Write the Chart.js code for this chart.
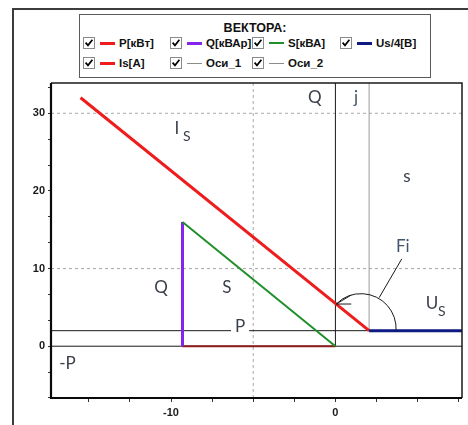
<!DOCTYPE html>
<html>
<head>
<meta charset="utf-8">
<script src="https://cdn.jsdelivr.net/npm/chart.js@4/dist/chart.umd.min.js"></script>
<style>
  html, body { margin: 0; padding: 0; background: #fff; }
  body { width: 468px; height: 425px; overflow: hidden; position: relative;
         font-family: "Liberation Sans", Arial, sans-serif; }
  #frame { position: absolute; left: 12px; top: 8px; width: 480px; height: 440px;
           border-left: 2px solid #3c3c3c; border-top: 2px solid #3c3c3c; }
  #legend { position: absolute; left: 79px; top: 14px; width: 350px; height: 62px;
            border: 1px solid #5a5a5a; background: #fff; }
  #legend .title { position: absolute; left: 0; width: 100%; top: 6px; text-align: center;
                   font-weight: bold; font-size: 12.5px; color: #111; }
  .item { position: absolute; height: 14px; }
  .item svg { position: absolute; top: 1px; }
  .item .ln { position: absolute; top: 7px; }
  .item .tx { position: absolute; top: 0; font-weight: bold; font-size: 11.5px; color: #111;
              white-space: nowrap; line-height: 14px; }
  #chart { position: absolute; left: 0; top: 0; }
</style>
</head>
<body>
<div id="frame"></div>
<div id="legend"><div class="title">ВЕКТОРА:</div></div>
<canvas id="chart" width="468" height="425"></canvas>
<script>
// ---- vector end points (x, y in chart units) ----
const pVector  = [{ x: -9.3, y: 0 },  { x: 0, y: 0 }];
const qVector  = [{ x: -9.3, y: 0 },  { x: -9.3, y: 16 }];
const sVector  = [{ x: -9.3, y: 16 }, { x: 0, y: 0 }];
const isVector = [{ x: -15.5, y: 32 }, { x: 2.05, y: 2 }];
const usVector = [{ x: 2.05, y: 2 },  { x: 7.7, y: 2 }];

// axis lines through the origin and through the voltage vector start
const axis1H = [{ x: -17.3, y: 0 }, { x: 7.7, y: 0 }];
const axis1V = [{ x: 0, y: 0 },     { x: 0, y: 33.9 }];
const axis2H = [{ x: -17.3, y: 2 }, { x: 7.7, y: 2 }];
const axis2V = [{ x: 2.05, y: 2 },  { x: 2.05, y: 33.9 }];

// dashed guide lines
const guideH = [10, 30];
const guideV = [-5];

// scale limits and ticks
const xLimits = [-17.3, 7.7];
const yLimits = [-6.67, 33.9];
const xTickValues = [-15, -12.5, -10, -7.5, -5, -2.5, 0, 2.5, 5, 7.5];
const yTickValues = [-6.667, -3.333, 0, 3.333, 6.667, 10, 13.333, 16.667, 20, 23.333, 26.667, 30, 33.333];
const xTickLabels = { '-10': '-10', '0': '0' };
const yTickLabels = { '0': '0', '10': '10', '20': '20', '30': '30' };

// legend entries
const legendNames  = ['P[кВт]', 'Q[кВАр]', 'S[кВА]', 'Us/4[В]', 'Is[А]', 'Оси_1', 'Оси_2'];
const legendColors = ['#ee1c1c', '#8424ee', '#1f8f2a', '#0c1a82', '#ee1c1c', '#8c8c8c', '#8c8c8c'];
const legendWidths = [3, 3, 2, 3, 3, 1, 1];
// legend layout: [checkbox x, row y]
const legendSlots = [[83, 36], [170, 36], [252, 36], [340, 36], [83, 56], [170, 56], [252, 56]];

// text labels on the diagram (anchored in chart units)
const diagramLabels = [
  { t: 'Q',  x: -1.25, y: 32.0, c: '#3a3f4a' },
  { t: 'j',  x: 1.25,  y: 32.0, c: '#44546a' },
  { t: 's',  x: 4.35,  y: 21.8, c: '#3a3f4a' },
  { t: 'Fi', x: 4.1,   y: 12.8, c: '#44546a' },
  { t: 'Q',  x: -10.6, y: 7.6,  c: '#3a3f4a' },
  { t: 'S',  x: -6.6,  y: 7.6,  c: '#3a3f4a' },
  { t: '-P', x: -16.3, y: -2.2, c: '#3a3f4a' }
];
const subLabels = [
  { t: 'I', s: 'S', x: -9.65, y: 28.1 },
  { t: 'U', s: 'S', x: 5.87,  y: 5.55 }
];
const pLabel = { t: 'P', x: -5.8, y: 2.6 };

// ---- legend ----
const legendEl = document.getElementById('legend');
legendNames.forEach((name, i) => {
  const [cx, cy] = legendSlots[i];
  const el = document.createElement('div');
  el.className = 'item';
  el.style.left = (cx - 80) + 'px';
  el.style.top = (cy - 15) + 'px';
  el.innerHTML =
    '<svg width="12" height="12" style="left:0">' +
    '<rect x="0.5" y="0.5" width="11" height="11" fill="#fff" stroke="#8a8a8a"/>' +
    '<path d="M2.6 5.6 L5 8.4 L9.4 2.8" stroke="#000" stroke-width="1.7" fill="none"/></svg>' +
    '<span class="ln" style="left:17px;width:15px;height:' + legendWidths[i] + 'px;margin-top:' +
    (-Math.floor(legendWidths[i] / 2)) + 'px;background:' + legendColors[i] + '"></span>' +
    '<span class="tx" style="left:36px">' + name + '</span>';
  legendEl.appendChild(el);
});

// ---- chart ----
const line = (data, color, width, order, dash) => ({
  data, showLine: true, fill: false, pointRadius: 0, borderColor: color,
  borderWidth: width, borderDash: dash || [], order, borderCapStyle: 'butt'
});

const datasets = [
  line(usVector, '#0c1a82', 3, 1),
  line(isVector, '#ee1c1c', 3, 1),
  line(sVector, '#1f8f2a', 2, 2),
  line(qVector, '#8424ee', 3, 2),
  line(pVector, '#8e1c1c', 2, 2),
  line(axis1H, '#1a1a1a', 1, 8),
  line(axis1V, '#1a1a1a', 1, 8),
  line(axis2H, '#1a1a1a', 1, 8),
  line(axis2V, '#9a9a9a', 1, 8)
];
guideH.forEach(v => datasets.push(line([{ x: xLimits[0], y: v }, { x: xLimits[1], y: v }], '#a8a8a8', 1, 9, [3, 3])));
guideV.forEach(v => datasets.push(line([{ x: v, y: yLimits[0] }, { x: v, y: yLimits[1] }], '#a8a8a8', 1, 9, [3, 3])));

const tickFont = { family: '"Liberation Sans", Arial, sans-serif', size: 11, weight: 'bold' };
const labelFont = (s) => s + 'px Lato, "Open Sans", sans-serif';

const diagramPlugin = {
  id: 'diagram',
  afterDatasetsDraw(chart) {
    const { ctx, chartArea: a, scales: { x, y } } = chart;
    ctx.save();
    ctx.beginPath();
    ctx.rect(a.left, a.top, a.right - a.left, a.bottom - a.top);
    ctx.clip();

    // P label with a white gap on the line
    const px = x.getPixelForValue(pLabel.x), py = y.getPixelForValue(pLabel.y);
    ctx.fillStyle = '#fff';
    ctx.fillRect(px - 9, py - 9, 18, 16);
    ctx.font = labelFont(17);
    ctx.textAlign = 'center';
    ctx.textBaseline = 'middle';
    ctx.fillStyle = '#3a3f4a';
    ctx.fillText(pLabel.t, px, py);

    diagramLabels.forEach(l => {
      ctx.fillStyle = l.c;
      ctx.font = labelFont(17);
      ctx.fillText(l.t, x.getPixelForValue(l.x), y.getPixelForValue(l.y));
    });
    subLabels.forEach(l => {
      const lx = x.getPixelForValue(l.x), ly = y.getPixelForValue(l.y);
      ctx.fillStyle = '#3a3f4a';
      ctx.font = labelFont(17);
      ctx.fillText(l.t, lx, ly);
      ctx.font = labelFont(14);
      ctx.fillText(l.s, lx + 10, ly + 8);
    });

    // angle arc between Us and Is
    const vx = x.getPixelForValue(usVector[0].x), vy = y.getPixelForValue(usVector[0].y);
    const cx = vx - 8, cy = vy - 2, r = 35;
    ctx.strokeStyle = '#1a1a1a';
    ctx.lineWidth = 1;
    ctx.beginPath();
    ctx.arc(cx, cy, r, 0.06, -2.36, true);
    ctx.stroke();
    const tx = cx + r * Math.cos(-2.36), ty = cy + r * Math.sin(-2.36);
    ctx.beginPath();
    ctx.moveTo(tx + 15, ty - 9); ctx.lineTo(tx, ty); ctx.lineTo(tx + 15, ty);
    ctx.stroke();
    // leader from Fi to the arc
    const fx = x.getPixelForValue(diagramLabels[3].x), fy = y.getPixelForValue(diagramLabels[3].y);
    ctx.beginPath();
    ctx.moveTo(fx - 1, fy + 12);
    ctx.lineTo(cx + 18, cy - 31);
    ctx.stroke();
    ctx.restore();
  },
  afterDraw(chart) {
    const { ctx, chartArea: a } = chart;
    ctx.save();
    ctx.strokeStyle = '#1a1a1a';
    ctx.lineWidth = 1.5;
    ctx.beginPath();
    ctx.moveTo(a.left, a.top); ctx.lineTo(a.right, a.top); ctx.lineTo(a.right, a.bottom);
    ctx.stroke();
    ctx.lineWidth = 2.2;
    ctx.strokeStyle = '#0a0a0a';
    ctx.beginPath();
    ctx.moveTo(a.left, a.top); ctx.lineTo(a.left, a.bottom); ctx.lineTo(a.right, a.bottom);
    ctx.stroke();
    ctx.restore();
  }
};

new Chart(document.getElementById('chart'), {
  type: 'scatter',
  data: { datasets },
  plugins: [diagramPlugin],
  options: {
    responsive: false,
    animation: false,
    devicePixelRatio: 1,
    layout: { padding: { top: 83, right: 6, left: 0, bottom: 0 } },
    plugins: { legend: { display: false }, tooltip: { enabled: false } },
    scales: {
      x: {
        type: 'linear', min: xLimits[0], max: xLimits[1],
        afterBuildTicks: s => { s.ticks = xTickValues.map(v => ({ value: v })); },
        afterFit: s => { s.height = 27; },
        ticks: {
          autoSkip: false, maxRotation: 0, padding: 4, color: '#1a1a1a', font: tickFont,
          callback: v => xTickLabels[String(v)] || ''
        },
        grid: { drawOnChartArea: false, tickLength: 4, tickColor: '#333', tickWidth: 1 },
        border: { display: false }
      },
      y: {
        type: 'linear', min: yLimits[0], max: yLimits[1],
        afterBuildTicks: s => { s.ticks = yTickValues.map(v => ({ value: v })); },
        afterFit: s => { s.width = 51; },
        ticks: {
          autoSkip: false, padding: 3, color: '#1a1a1a', font: tickFont,
          callback: v => yTickLabels[String(v)] || ''
        },
        grid: { drawOnChartArea: false, tickLength: 3, tickColor: '#333', tickWidth: 1 },
        border: { display: false }
      }
    }
  }
});
</script>
</body>
</html>
